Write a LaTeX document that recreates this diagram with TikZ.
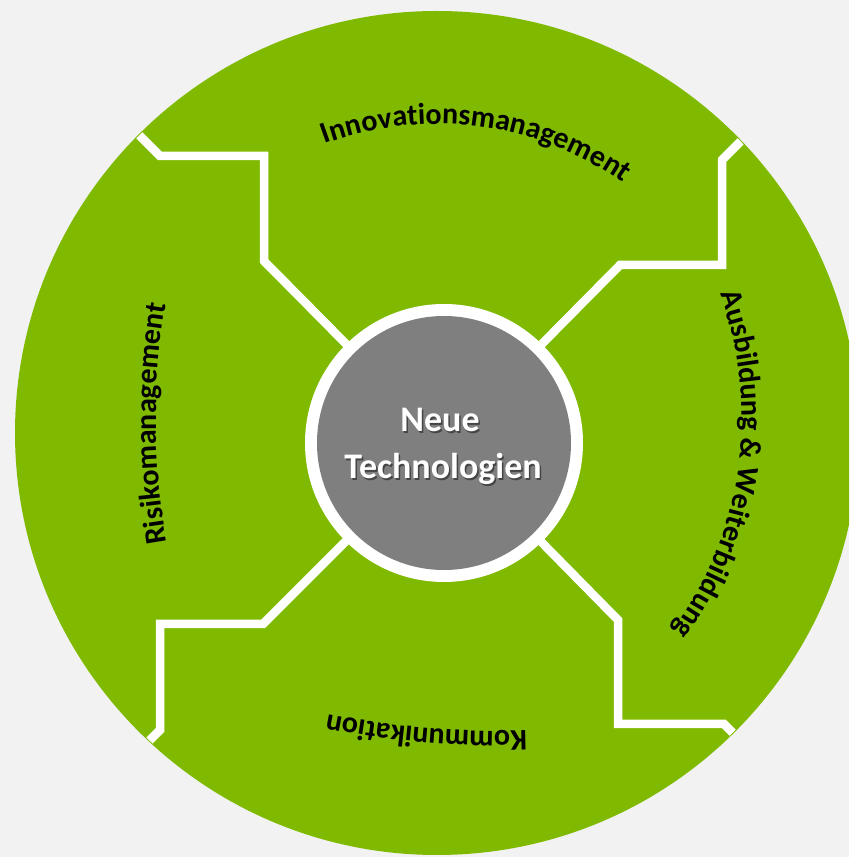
\documentclass[tikz,border=0pt]{standalone}
\usepackage{fontspec}
\setmainfont{Carlito}
\usetikzlibrary{decorations.text,calc}
\definecolor{bg}{HTML}{F2F2F2}
\definecolor{leaf}{HTML}{7FBA00}
\definecolor{core}{HTML}{7F7F7F}
\newcommand\lblfont{\fontsize{30}{36}\selectfont\bfseries}
\begin{document}
\begin{tikzpicture}[x=1pt,y=1pt,
  sep/.style={draw=white, line width=8.5pt, line join=miter},
  arclabel/.style={decorate, decoration={text along path, text align=center, text={|\lblfont|#1}}},
  centertext/.style={font=\fontsize{36}{40}\selectfont\bfseries, anchor=base, inner sep=0pt}]
\useasboundingbox (0,0) rectangle (849,857);
\fill[bg] (0,0) rectangle (849,857);
\clip (0,0) rectangle (849,857);
\node[circle, fill=leaf, minimum size=844pt, inner sep=0pt, outer sep=0pt] (disc) at (437,424) {};
\begin{scope}
  \clip (437,424) circle[radius=421pt];
  \coordinate (ctr) at (444,414);
  \coordinate (tl1) at (264,596); \coordinate (tl2) at (264,701); \coordinate (tl3) at (160,701); \coordinate (tl4) at (110,751);
  \coordinate (tr1) at (620,592); \coordinate (tr2) at (722,592); \coordinate (tr3) at (722,697); \coordinate (tr4) at (772,747);
  \coordinate (br1) at (618,237); \coordinate (br2) at (618,133); \coordinate (br3) at (724,133); \coordinate (br4) at (774,83);
  \coordinate (bl1) at (263,233); \coordinate (bl2) at (160,233); \coordinate (bl3) at (160,127); \coordinate (bl4) at (110,77);
  \draw[sep] (ctr) -- (tl1) -- (tl2) -- (tl3) -- (tl4);
  \draw[sep] (ctr) -- (tr1) -- (tr2) -- (tr3) -- (tr4);
  \draw[sep] (ctr) -- (br1) -- (br2) -- (br3) -- (br4);
  \draw[sep] (ctr) -- (bl1) -- (bl2) -- (bl3) -- (bl4);
\end{scope}
\node[circle, fill=white, minimum size=278pt, inner sep=0pt, outer sep=0pt] (ring) at (444,414) {};
\node[circle, fill=core, minimum size=254pt, inner sep=0pt, outer sep=0pt] (hub) at (444,414) {};
\node[centertext, text=black, opacity=0.45] (neueS) at (441.5,423.5) {Neue};
\node[centertext, text=black, opacity=0.45] (techS) at (444.5,376.5) {Technologien};
\node[centertext, text=white] (neue) at (440,425) {Neue};
\node[centertext, text=white] (tech) at (443,378) {Technologien};
% arc labels
\path[arclabel=Innovationsmanagement] ($(437,408)+(142.6:325pt)$) arc[start angle=142.6, end angle=22.6, radius=325pt];
\path[arclabel={Ausbildung {\&} Weiterbildung}] ($(383,439)+(52:359pt)$) arc[start angle=52, end angle=-68, radius=359pt];
\path[arclabel=Kommunikation] ($(500,1026)+(-79.68:900pt)$) arc[start angle=-79.68, end angle=-109.68, radius=900pt];
\path[arclabel=Risikomanagement] ($(856,437)+(200.3:700pt)$) arc[start angle=200.3, end angle=160.3, radius=700pt];
\end{tikzpicture}
\end{document}
